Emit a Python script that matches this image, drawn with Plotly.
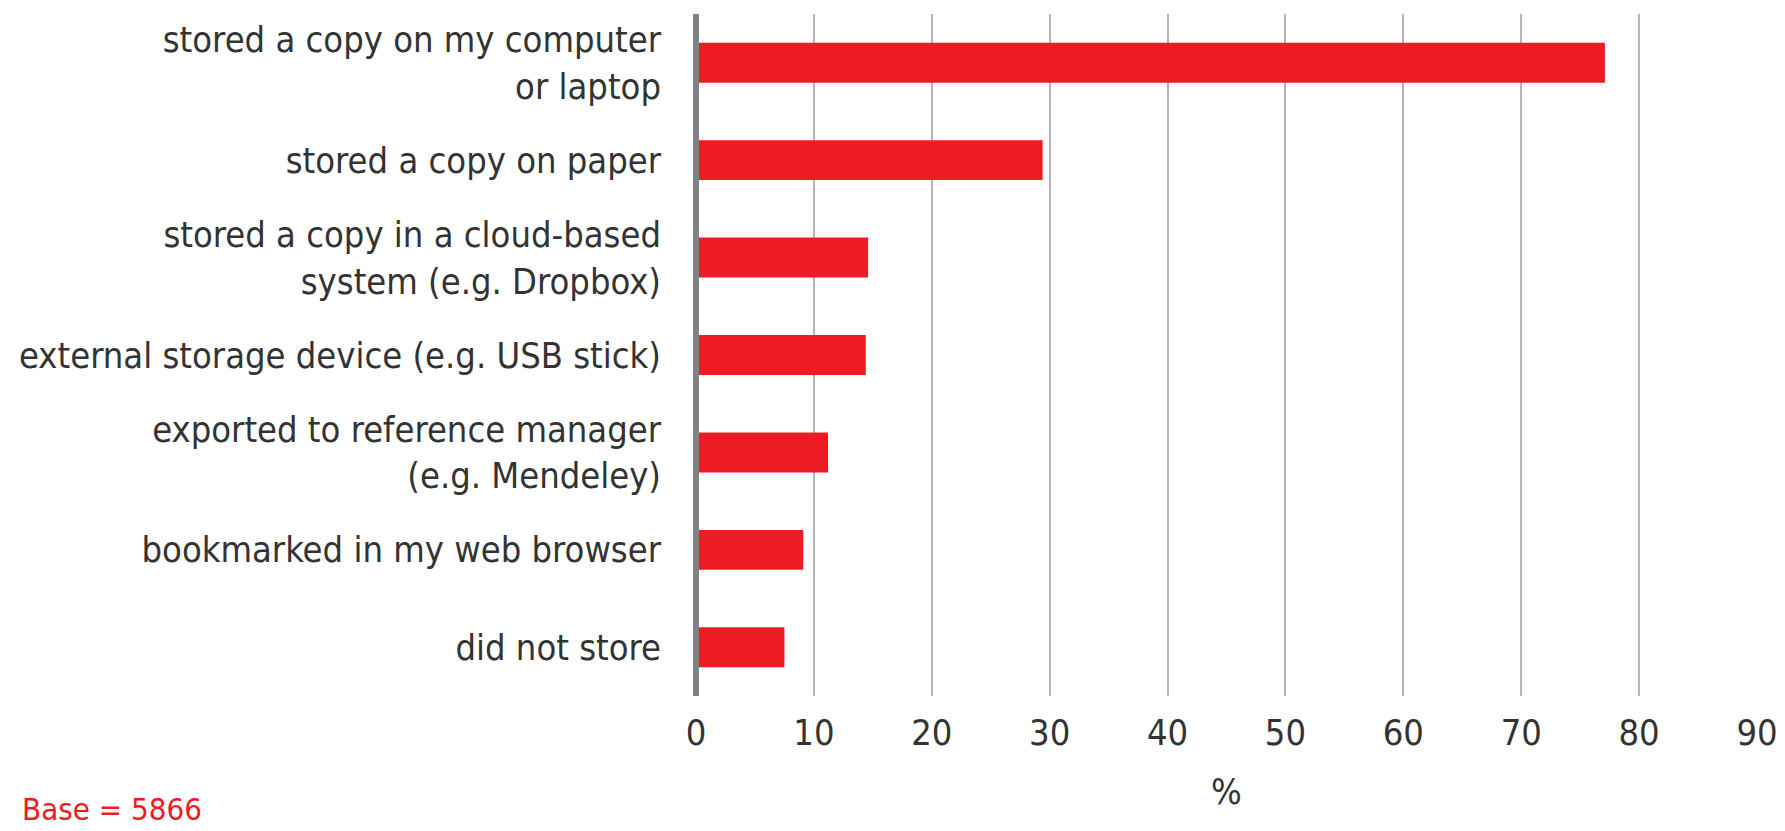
import plotly.graph_objects as go

categories = [
    "stored a copy on my computer<br>or laptop",
    "stored a copy on paper",
    "stored a copy in a cloud-based<br>system (e.g. Dropbox)",
    "external storage device (e.g. USB stick)",
    "exported to reference manager<br>(e.g. Mendeley)",
    "bookmarked in my web browser",
    "did not store",
]
values = [77.1, 29.4, 14.6, 14.4, 11.2, 9.1, 7.5]
x_ticks = [0, 10, 20, 30, 40, 50, 60, 70, 80, 90]
base_note = "Base = 5866"

FONT = "Liberation Sans Narrow, Arial Narrow, DejaVu Sans Condensed, sans-serif"
positions = list(range(len(categories)))

fig = go.Figure(
    go.Bar(
        x=values,
        y=positions,
        orientation="h",
        width=0.41,
        marker=dict(color="#ED1C24", line=dict(width=0)),
    )
)

# page body adds an 8px offset, so the figure is drawn 8px smaller
OFF = 8
W, H = 1785 - OFF, 831 - OFF
L, R, T, B = 696 - OFF, 28, 14 - OFF, 135

fig.update_layout(
    width=W,
    height=H,
    margin=dict(l=L, r=R, t=T, b=B, pad=0, autoexpand=False),
    paper_bgcolor="white",
    plot_bgcolor="white",
    showlegend=False,
    font=dict(family=FONT, color="#333333", size=36),
)
fig.update_xaxes(
    range=[0, 90],
    tickvals=x_ticks,
    ticktext=[str(t) for t in x_ticks],
    showgrid=True,
    gridcolor="#B5B5B5",
    gridwidth=2,
    zeroline=False,
    showline=False,
    ticks="",
    automargin=False,
    ticklabelstandoff=12,
    tickfont=dict(size=36, family=FONT, color="#333333"),
    title=dict(text="%", font=dict(size=36, family=FONT, color="#333333"), standoff=26),
)
fig.update_yaxes(
    range=[6.5, -0.5],
    tickvals=positions,
    ticktext=categories,
    showgrid=False,
    zeroline=False,
    showline=False,
    ticks="",
    automargin=False,
    ticklabelstandoff=34,
    tickfont=dict(size=36, family=FONT, color="#333333"),
)
# vertical axis line at x = 0 (left edge of the plot area), not clipped
fig.add_shape(
    type="line", xref="paper", yref="paper", x0=0, x1=0, y0=0, y1=1,
    line=dict(color="#808285", width=6), layer="above",
)
plot_w = W - L - R
plot_h = H - T - B
fig.add_annotation(
    text=base_note, xref="paper", yref="paper",
    x=(20 - OFF - L) / plot_w, y=((H - B) - (809 - OFF)) / plot_h,
    xanchor="left", yanchor="middle", showarrow=False,
    font=dict(size=31, family=FONT, color="#ED1C24"),
)
fig.write_html("out.html")
